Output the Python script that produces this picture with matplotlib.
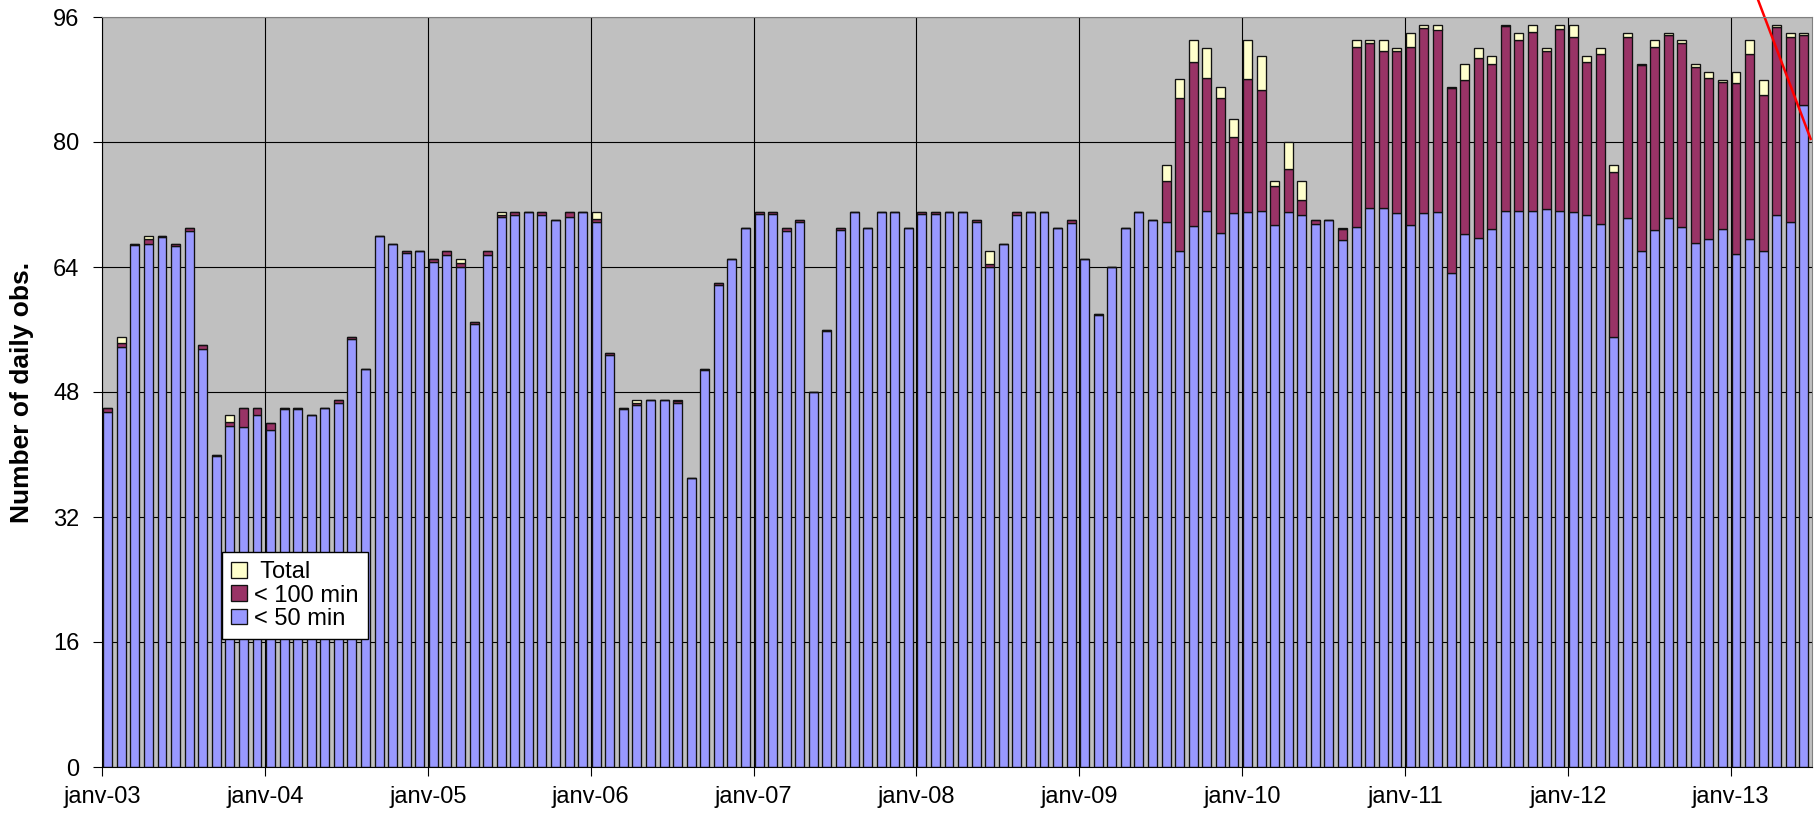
import matplotlib
matplotlib.use("Agg")
import matplotlib.pyplot as plt
import numpy as np

plt.rcParams['font.family'] = ['Liberation Sans', 'DejaVu Sans']

# monthly values, janv-03 .. juin-13 (cumulative levels)
n50 = [45.5, 53.8, 66.8, 66.9, 67.8, 66.7, 68.6, 53.5, 39.8, 43.6, 43.5, 45.0,
       43.2, 45.8, 45.8, 45.0, 45.9, 46.6, 54.8, 51.0, 68.0, 67.0, 65.8, 66.0,
       64.6, 65.6, 64.0, 56.7, 65.6, 70.4, 70.7, 71.0, 70.7, 70.0, 70.4, 71.0,
       69.7, 52.8, 45.8, 46.3, 47.0, 47.0, 46.6, 37.0, 50.8, 61.7, 65.0, 69.0,
       70.8, 70.8, 68.6, 69.8, 48.0, 55.8, 68.8, 71.0, 69.0, 71.0, 71.0, 69.0,
       70.8, 70.8, 71.0, 71.0, 69.7, 64.0, 67.0, 70.6, 71.0, 71.0, 69.0, 69.6,
       65.0, 57.8, 64.0, 69.0, 71.0, 70.0, 69.8, 66.0, 69.2, 71.2, 68.4, 70.9,
       71.1, 71.2, 69.4, 71.0, 70.7, 69.5, 70.0, 67.4, 69.1, 71.5, 71.6, 70.9,
       69.4, 70.9, 71.0, 63.2, 68.2, 67.7, 68.9, 71.2, 71.2, 71.2, 71.4, 71.2,
       71.1, 70.7, 69.5, 55.1, 70.3, 66.1, 68.8, 70.3, 69.1, 67.1, 67.6, 68.9,
       65.7, 67.6, 66.1, 70.6, 69.8, 84.7]
n100 = [46.0, 54.3, 67.0, 67.6, 68.0, 67.0, 69.0, 54.0, 40.0, 44.2, 46.0, 46.0,
        44.0, 46.0, 46.0, 45.0, 46.0, 47.0, 55.0, 51.0, 68.0, 67.0, 66.0, 66.0,
        65.0, 66.0, 64.5, 57.0, 66.0, 70.7, 71.0, 71.0, 71.0, 70.0, 71.0, 71.0,
        70.2, 53.0, 46.0, 46.6, 47.0, 47.0, 46.8, 37.0, 51.0, 62.0, 65.0, 69.0,
        71.0, 71.0, 69.0, 70.0, 48.0, 56.0, 69.0, 71.0, 69.0, 71.0, 71.0, 69.0,
        71.0, 71.0, 71.0, 71.0, 70.0, 64.4, 67.0, 71.0, 71.0, 71.0, 69.0, 70.0,
        65.0, 58.0, 64.0, 69.0, 71.0, 70.0, 75.0, 85.6, 90.3, 88.2, 85.6, 80.7,
        88.1, 86.7, 74.4, 76.6, 72.6, 70.0, 70.0, 68.9, 92.2, 92.7, 91.7, 91.7,
        92.2, 94.6, 94.4, 86.9, 88.0, 90.8, 90.0, 94.8, 93.0, 94.1, 91.6, 94.5,
        93.5, 90.3, 91.3, 76.2, 93.5, 89.9, 92.1, 93.7, 92.7, 89.6, 88.2, 87.7,
        87.6, 91.3, 86.0, 94.7, 93.5, 93.7]
total = [46.0, 55.0, 67.0, 68.0, 68.0, 67.0, 69.0, 54.0, 40.0, 45.0, 46.0, 46.0,
         44.0, 46.0, 46.0, 45.0, 46.0, 47.0, 55.0, 51.0, 68.0, 67.0, 66.0, 66.0,
         65.0, 66.0, 65.0, 57.0, 66.0, 71.0, 71.0, 71.0, 71.0, 70.0, 71.0, 71.0,
         71.0, 53.0, 46.0, 47.0, 47.0, 47.0, 47.0, 37.0, 51.0, 62.0, 65.0, 69.0,
         71.0, 71.0, 69.0, 70.0, 48.0, 56.0, 69.0, 71.0, 69.0, 71.0, 71.0, 69.0,
         71.0, 71.0, 71.0, 71.0, 70.0, 66.0, 67.0, 71.0, 71.0, 71.0, 69.0, 70.0,
         65.0, 58.0, 64.0, 69.0, 71.0, 70.0, 77.0, 88.0, 93.0, 92.0, 87.0, 83.0,
         93.0, 91.0, 75.0, 80.0, 75.0, 70.0, 70.0, 69.0, 93.0, 93.0, 93.0, 92.0,
         94.0, 95.0, 95.0, 87.0, 90.0, 92.0, 91.0, 95.0, 94.0, 95.0, 92.0, 95.0,
         95.0, 91.0, 92.0, 77.0, 94.0, 90.0, 93.0, 94.0, 93.0, 90.0, 89.0, 88.0,
         89.0, 93.0, 88.0, 95.0, 94.0, 94.0]
year_labels = ['janv-03', 'janv-04', 'janv-05', 'janv-06', 'janv-07', 'janv-08',
               'janv-09', 'janv-10', 'janv-11', 'janv-12', 'janv-13']

n50 = np.array(n50)
n100 = np.array(n100)
total = np.array(total)
x = np.arange(len(n50)) + 0.4

fig = plt.figure(figsize=(18.16, 8.15), dpi=100)
ax = fig.add_axes([102.3 / 1816, 48 / 815, 1709.7 / 1816, 750 / 815])
ax.set_facecolor('#C0C0C0')

w = 0.66
kw = dict(width=w, edgecolor='#111111', linewidth=0.95)
ax.bar(x, n50, color='#9999FF', label='< 50 min', **kw)
ax.bar(x, n100 - n50, bottom=n50, color='#993366', label='< 100 min', **kw)
ax.bar(x, total - n100, bottom=n100, color='#FFFFCC', label=' Total', **kw)

ax.set_xlim(0, len(n50))
ax.set_ylim(0, 96)
ax.set_yticks(np.arange(0, 97, 16))
ax.set_xticks(np.arange(0, len(n50), 12))
ax.set_xticklabels(year_labels)
ax.set_axisbelow(True)
ax.grid(True, color='black', linewidth=0.8)
ax.tick_params(axis='both', labelsize=17, direction='out', length=6.5, width=0.8)
ax.tick_params(axis='y', pad=10)
ax.tick_params(axis='x', pad=7)
for s in ['top', 'right']:
    ax.spines[s].set_color('#808080')
for s in ['left', 'bottom']:
    ax.spines[s].set_color('black')

ax.set_ylabel('Number of daily obs.', fontsize=19, fontweight='bold')
ax.yaxis.set_label_coords(-0.040, 0.5)

h, l = ax.get_legend_handles_labels()
leg = ax.legend(h[::-1], l[::-1], loc='upper left', bbox_to_anchor=(0.070, 0.2867),
                fontsize=17, frameon=True, fancybox=False, framealpha=1,
                edgecolor='black', handlelength=0.65, handleheight=0.65,
                handletextpad=0.3, borderpad=0.4, labelspacing=0.05,
                borderaxespad=0)
leg.get_frame().set_linewidth(1.0)

# red annotation stroke in the top right corner
ax.plot([122.0, 125.9], [98.3, 80.4], color='red', linewidth=1.8, clip_on=False)

fig.savefig('out.png', dpi=100)
